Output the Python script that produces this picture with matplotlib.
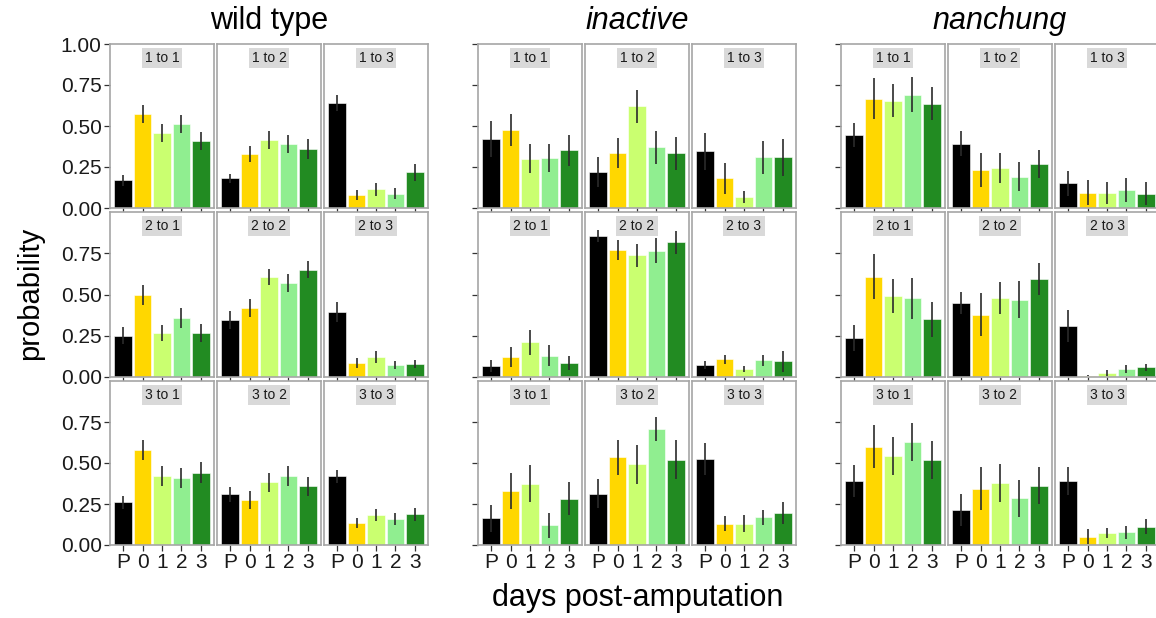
import numpy as np
import matplotlib.pyplot as plt

plt.rcParams['font.family'] = ['Liberation Sans', 'DejaVu Sans']

days = ['P', '0', '1', '2', '3']
day_colors = ['#000000', '#FFD700', '#CAFF70', '#90EE90', '#228B22']
transitions = ['1 to 1', '1 to 2', '1 to 3',
               '2 to 1', '2 to 2', '2 to 3',
               '3 to 1', '3 to 2', '3 to 3']
groups = ['wild type', 'inactive', 'nanchung']

# mean transition probability per day, one row per transition
wt_mean = [[0.170, 0.575, 0.455, 0.510, 0.410],
           [0.180, 0.330, 0.415, 0.390, 0.360],
           [0.640, 0.080, 0.115, 0.087, 0.218],
           [0.250, 0.495, 0.266, 0.355, 0.266],
           [0.347, 0.417, 0.605, 0.568, 0.652],
           [0.395, 0.082, 0.119, 0.070, 0.076],
           [0.261, 0.579, 0.420, 0.410, 0.442],
           [0.308, 0.277, 0.382, 0.419, 0.357],
           [0.420, 0.134, 0.185, 0.160, 0.187]]
wt_err = [[0.033, 0.055, 0.055, 0.055, 0.055],
          [0.030, 0.050, 0.055, 0.055, 0.060],
          [0.050, 0.030, 0.040, 0.035, 0.053],
          [0.050, 0.060, 0.050, 0.060, 0.056],
          [0.055, 0.057, 0.050, 0.054, 0.053],
          [0.060, 0.032, 0.035, 0.025, 0.023],
          [0.040, 0.062, 0.060, 0.060, 0.065],
          [0.046, 0.055, 0.058, 0.060, 0.059],
          [0.040, 0.030, 0.037, 0.037, 0.040]]

iav_mean = [[0.422, 0.478, 0.300, 0.306, 0.351],
            [0.220, 0.333, 0.620, 0.371, 0.333],
            [0.345, 0.182, 0.069, 0.310, 0.308],
            [0.065, 0.117, 0.209, 0.127, 0.082],
            [0.857, 0.771, 0.740, 0.767, 0.818],
            [0.070, 0.104, 0.045, 0.098, 0.092],
            [0.162, 0.331, 0.374, 0.119, 0.282],
            [0.313, 0.534, 0.491, 0.710, 0.521],
            [0.523, 0.131, 0.131, 0.168, 0.194]]
iav_err = [[0.108, 0.098, 0.088, 0.086, 0.096],
           [0.090, 0.092, 0.100, 0.100, 0.100],
           [0.115, 0.095, 0.037, 0.100, 0.110],
           [0.036, 0.062, 0.077, 0.066, 0.040],
           [0.039, 0.063, 0.070, 0.076, 0.070],
           [0.022, 0.030, 0.018, 0.033, 0.062],
           [0.080, 0.110, 0.113, 0.074, 0.100],
           [0.088, 0.107, 0.120, 0.073, 0.118],
           [0.098, 0.045, 0.050, 0.047, 0.068]]

nan_mean = [[0.448, 0.667, 0.654, 0.691, 0.636],
            [0.393, 0.233, 0.245, 0.192, 0.268],
            [0.151, 0.094, 0.092, 0.110, 0.088],
            [0.237, 0.609, 0.490, 0.476, 0.348],
            [0.448, 0.378, 0.478, 0.468, 0.593],
            [0.309, 0.006, 0.022, 0.045, 0.057],
            [0.390, 0.600, 0.545, 0.629, 0.518],
            [0.212, 0.343, 0.380, 0.286, 0.362],
            [0.392, 0.051, 0.074, 0.078, 0.112]]
nan_err = [[0.073, 0.125, 0.100, 0.105, 0.100],
           [0.078, 0.105, 0.092, 0.090, 0.088],
           [0.075, 0.078, 0.065, 0.075, 0.070],
           [0.080, 0.138, 0.105, 0.123, 0.109],
           [0.065, 0.133, 0.098, 0.114, 0.098],
           [0.096, 0.005, 0.017, 0.023, 0.022],
           [0.100, 0.130, 0.116, 0.117, 0.118],
           [0.096, 0.130, 0.115, 0.113, 0.113],
           [0.085, 0.045, 0.030, 0.040, 0.047]]

group_data = [(wt_mean, wt_err), (iav_mean, iav_err), (nan_mean, nan_err)]

W, H = 1156, 618
fig = plt.figure(figsize=(W / 100, H / 100), dpi=100)

group_left = [110, 478, 841]
panel_w, panel_h = 104, 164
col_step, row_step = 107, 168.5
top0 = 44

x = np.arange(1, 6)
for g, (means, errs) in enumerate(group_data):
    for k in range(9):
        r, c = divmod(k, 3)
        left = group_left[g] + c * col_step
        top = top0 + r * row_step
        ax = fig.add_axes([left / W, 1 - (top + panel_h) / H, panel_w / W, panel_h / H])
        m = np.array(means[k])
        e = np.array(errs[k])
        ax.bar(x, m, width=0.9, color=day_colors, edgecolor='white', linewidth=0.4, zorder=2)
        ax.vlines(x, np.clip(m - e, 0, None), m + e, color='#2b2b2b', linewidth=1.2, zorder=3)
        ax.set_xlim(0.32, 5.68)
        ax.set_ylim(0, 1.0)
        for s in ax.spines.values():
            s.set_color('#a6a6a6')
            s.set_linewidth(1.2)
        ax.set_xticks(x)
        yt = [0, 0.25, 0.5, 0.75, 1.0] if r == 0 else [0, 0.25, 0.5, 0.75]
        ax.set_yticks(yt)
        ax.tick_params(axis='both', length=4, width=0.9, color='#333333',
                       labelsize=15, labelcolor='#1a1a1a', pad=2)
        if r == 2:
            ax.set_xticklabels(days)
        else:
            ax.set_xticklabels([])
        if c == 0:
            if g == 0:
                ax.set_yticklabels(['%.2f' % v for v in yt])
            else:
                ax.set_yticklabels([])
        else:
            ax.tick_params(axis='y', left=False, labelleft=False)
        ax.text(0.5, 0.915, transitions[k], transform=ax.transAxes, ha='center', va='center',
                fontsize=10, color='#1a1a1a',
                bbox=dict(boxstyle='square,pad=0.22', facecolor='#d9d9d9', edgecolor='none'))

    cx = group_left[g] + col_step + panel_w / 2
    fig.text(cx / W, 1 - 21 / H, groups[g], ha='center', va='center', fontsize=22,
             style='normal' if g == 0 else 'italic')

fig.text(30 / W, 1 - 293 / H, 'probability', rotation=90, ha='center', va='center', fontsize=21)
fig.text(638 / W, 1 - 598 / H, 'days post-amputation', ha='center', va='center', fontsize=22)

fig.savefig('out.png', dpi=100)
